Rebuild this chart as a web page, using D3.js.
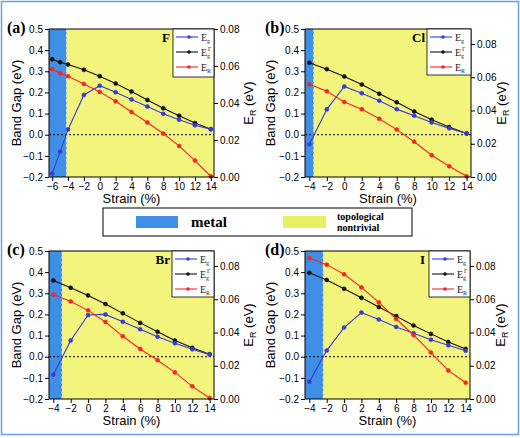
<!DOCTYPE html>
<html><head><meta charset="utf-8">
<script src="https://cdn.jsdelivr.net/npm/d3@7"></script>
<style>body{margin:0;background:#fff}svg{display:block}</style>
</head><body>
<svg id="c" width="520" height="438"></svg>
<script>
// ---- data ----
const strainA = [-6, -5, -4, -2, 0, 2, 4, 6, 8, 10, 12, 14];
const egA      = [-0.184, -0.081, 0.025, 0.188, 0.232, 0.201, 0.167, 0.133, 0.099, 0.071, 0.045, 0.026];
const egGammaA = [0.357, 0.343, 0.332, 0.307, 0.277, 0.242, 0.204, 0.164, 0.125, 0.090, 0.055, 0.026];
const erA      = [0.0583, 0.0561, 0.0545, 0.0503, 0.0460, 0.0409, 0.0351, 0.0295, 0.0235, 0.0168, 0.0089, 0.0004];

const strainB = [-4, -2, 0, 2, 4, 6, 8, 10, 12, 14];
const egB      = [-0.045, 0.120, 0.228, 0.196, 0.161, 0.121, 0.090, 0.058, 0.030, 0.006];
const egGammaB = [0.340, 0.310, 0.275, 0.237, 0.194, 0.153, 0.110, 0.071, 0.036, 0.006];
const erB      = [0.0558, 0.0515, 0.0451, 0.0408, 0.0350, 0.0285, 0.0212, 0.0131, 0.0065, 0.0004];

const strainC = [-4, -2, 0, 2, 4, 6, 8, 10, 12, 14];
const egC      = [-0.085, 0.077, 0.197, 0.200, 0.165, 0.130, 0.094, 0.064, 0.035, 0.010];
const egGammaC = [0.361, 0.326, 0.290, 0.249, 0.205, 0.160, 0.118, 0.077, 0.042, 0.012];
const erC      = [0.0629, 0.0587, 0.0533, 0.0463, 0.0377, 0.0301, 0.0233, 0.0160, 0.0076, 0.0006];

const strainD = [-4, -2, 0, 2, 4, 6, 8, 10, 12, 14];
const egD      = [-0.119, 0.029, 0.138, 0.209, 0.176, 0.141, 0.111, 0.080, 0.054, 0.028];
const egGammaD = [0.397, 0.363, 0.321, 0.279, 0.235, 0.192, 0.148, 0.108, 0.070, 0.037];
const erD      = [0.0848, 0.0808, 0.0750, 0.0671, 0.0581, 0.0481, 0.0385, 0.0279, 0.0172, 0.0098];

const panelLabels = ["(a)", "(b)", "(c)", "(d)"];
const elementLabels = ["F", "Cl", "Br", "I"];
const metalEdges = [-4.2, -3.5, -3.0, -2.4];
const xTicksA = [-6, -4, -2, 0, 2, 4, 6, 8, 10, 12, 14];
const xTicksBCD = [-4, -2, 0, 2, 4, 6, 8, 10, 12, 14];
const leftTicks = [-0.2, -0.1, 0.0, 0.1, 0.2, 0.3, 0.4, 0.5];
const rightTicksA = [0.00, 0.02, 0.04, 0.06, 0.08];
const rightTicksBCD = [0.00, 0.02, 0.04, 0.06, 0.08];
const legendNames = ["metal", "topological", "nontrivial"];

// ---- style ----
const SANS = "'Liberation Sans', Arial, sans-serif";
const SERIF = "'Liberation Serif', 'Times New Roman', serif";
const C_BLUE_REG = "#3f8fe6";
const C_YEL = "#f3f47c";
const C_EG = "#3a3ad8";
const C_EGG = "#111111";
const C_ER = "#f52525";

const svg = d3.select("#c");

// outer frame
svg.append("rect").attr("x", 1.5).attr("y", 1.5).attr("width", 517).attr("height", 433)
  .attr("fill", "none").attr("stroke", "#6a9fe0").attr("stroke-width", 1.5);

const panels = [
  {x0: 49, x1: 214, y0: 29, y1: 177, xdom: [-6.4, 14.4], rmax: 0.08, strain: strainA, eg: egA, egg: egGammaA, er: erA, xt: xTicksA, rt: rightTicksA, lx: 7, ly: 33, legBox: [173, 29, 41, 48], elx: 170, ely: 42, ltx: 28, rtx: 39},
  {x0: 305, x1: 471, y0: 29, y1: 177, xdom: [-4.5, 14.5], rmax: 0.089, strain: strainB, eg: egB, egg: egGammaB, er: erB, xt: xTicksBCD, rt: rightTicksBCD, lx: 265, ly: 33, legBox: [427, 29, 44, 46], elx: 425, ely: 42, ltx: 30, rtx: 35},
  {x0: 49, x1: 214, y0: 251, y1: 399, xdom: [-4.5, 14.5], rmax: 0.089, strain: strainC, eg: egC, egg: egGammaC, er: erC, xt: xTicksBCD, rt: rightTicksBCD, lx: 7, ly: 255, legBox: [172, 251, 42, 46], elx: 170, ely: 264, ltx: 28, rtx: 39},
  {x0: 305, x1: 470, y0: 251, y1: 399, xdom: [-4.5, 14.5], rmax: 0.089, strain: strainD, eg: egD, egg: egGammaD, er: erD, xt: xTicksBCD, rt: rightTicksBCD, lx: 265, ly: 255, legBox: [429, 251, 41, 46], elx: 425, ely: 264, ltx: 30, rtx: 35}
];

panels.forEach((p, i) => {
  const g = svg.append("g");
  const x = d3.scaleLinear().domain(p.xdom).range([p.x0, p.x1]);
  const yL = d3.scaleLinear().domain([-0.2, 0.5]).range([p.y1, p.y0]);
  const yR = d3.scaleLinear().domain([0, p.rmax]).range([p.y1, p.y0]);

  // background regions
  g.append("rect").attr("x", p.x0).attr("y", p.y0).attr("width", p.x1 - p.x0).attr("height", p.y1 - p.y0).attr("fill", C_YEL);
  g.append("rect").attr("x", p.x0).attr("y", p.y0).attr("width", x(metalEdges[i]) - p.x0).attr("height", p.y1 - p.y0).attr("fill", C_BLUE_REG);
  g.append("line").attr("x1", x(metalEdges[i])).attr("x2", x(metalEdges[i])).attr("y1", p.y0).attr("y2", p.y1)
    .attr("stroke", "#cfe3f7").attr("stroke-width", 1).attr("stroke-dasharray", "3,2");

  // zero dotted line
  g.append("line").attr("x1", p.x0).attr("x2", p.x1).attr("y1", yL(0)).attr("y2", yL(0))
    .attr("stroke", "#000").attr("stroke-width", 1).attr("stroke-dasharray", "2,2");

  // series
  const series = [
    {vals: p.egg, y: yL, c: C_EGG},
    {vals: p.eg, y: yL, c: C_EG},
    {vals: p.er, y: yR, c: C_ER}
  ];
  series.forEach(s => {
    const pts = p.strain.map((d, k) => [d, s.vals[k]]);
    g.append("path").datum(pts)
      .attr("d", d3.line().x(d => x(d[0])).y(d => s.y(d[1])))
      .attr("fill", "none").attr("stroke", s.c).attr("stroke-width", 1.1);
    g.selectAll(null).data(pts).enter().append("circle")
      .attr("cx", d => x(d[0])).attr("cy", d => s.y(d[1])).attr("r", 2)
      .attr("fill", s.c).attr("stroke", s.c).attr("stroke-width", 0.6);
  });

  // frame
  g.append("rect").attr("x", p.x0).attr("y", p.y0).attr("width", p.x1 - p.x0).attr("height", p.y1 - p.y0)
    .attr("fill", "none").attr("stroke", "#000").attr("stroke-width", 1);

  // axes
  const styleAxis = (sel) => {
    sel.select(".domain").remove();
    sel.selectAll("text").attr("font-family", SANS).attr("font-size", 10).attr("fill", "#000");
    sel.selectAll("line").attr("stroke", "#000");
  };
  g.append("g").attr("transform", `translate(${p.x0},0)`)
    .call(d3.axisLeft(yL).tickValues(leftTicks).tickFormat(d3.format(".1f")).tickSize(4).tickPadding(2))
    .call(styleAxis);
  g.append("g").attr("transform", `translate(${p.x1},0)`)
    .call(d3.axisRight(yR).tickValues(p.rt).tickFormat(d3.format(".2f")).tickSize(4).tickPadding(2))
    .call(styleAxis);
  g.append("g").attr("transform", `translate(0,${p.y1})`)
    .call(d3.axisBottom(x).tickValues(p.xt).tickFormat(d3.format("d")).tickSize(4).tickPadding(2))
    .call(styleAxis);

  // axis titles
  g.append("text").attr("transform", `translate(${p.x0 - p.ltx},${(p.y0 + p.y1) / 2}) rotate(-90)`)
    .attr("text-anchor", "middle").attr("font-family", SANS).attr("font-size", 13).text("Band Gap (eV)");
  const rt = g.append("text").attr("transform", `translate(${p.x1 + p.rtx},${(p.y0 + p.y1) / 2}) rotate(-90)`)
    .attr("text-anchor", "middle").attr("font-family", SANS).attr("font-size", 13);
  rt.append("tspan").text("E");
  rt.append("tspan").attr("font-size", 9).attr("dy", 3).text("R");
  rt.append("tspan").attr("dy", -3).text(" (eV)");
  g.append("text").attr("x", (p.x0 + p.x1) / 2).attr("y", p.y1 + 26)
    .attr("text-anchor", "middle").attr("font-family", SANS).attr("font-size", 13).text("Strain (%)");

  // panel label
  g.append("text").attr("x", p.lx).attr("y", p.ly).attr("font-family", SERIF).attr("font-weight", "bold")
    .attr("font-size", 16).text(panelLabels[i]);
  // element label
  g.append("text").attr("x", p.elx).attr("y", p.ely).attr("text-anchor", "end").attr("font-family", SERIF)
    .attr("font-weight", "bold").attr("font-size", 13).text(elementLabels[i]);

  // inner legend
  const [bx, by, bw, bh] = p.legBox;
  g.append("rect").attr("x", bx).attr("y", by).attr("width", bw).attr("height", bh)
    .attr("fill", "#fff").attr("stroke", "#000").attr("stroke-width", 0.8);
  const legRows = [
    {c: C_EG, sub: "g", sup: ""},
    {c: C_EGG, sub: "g", sup: "Γ"},
    {c: C_ER, sub: "R", sup: ""}
  ];
  legRows.forEach((r, k) => {
    const ly = by + 8 + k * 15;
    g.append("line").attr("x1", bx + 3).attr("x2", bx + 25).attr("y1", ly).attr("y2", ly)
      .attr("stroke", r.c).attr("stroke-width", 1.1);
    g.append("circle").attr("cx", bx + 16).attr("cy", ly).attr("r", 1.8).attr("fill", r.c);
    const t = g.append("text").attr("x", bx + 28).attr("y", ly + 3.5).attr("font-family", SERIF)
      .attr("font-size", 10).attr("fill", "#222");
    t.append("tspan").text("E");
    t.append("tspan").attr("font-size", 6).attr("dy", 2.5).text(r.sub);
    if (r.sup) {
      g.append("text").attr("x", bx + 35).attr("y", ly - 1).attr("font-family", SERIF)
        .attr("font-size", 6).attr("fill", "#222").text(r.sup);
    }
  });
});

// shared legend
const lg = svg.append("g");
lg.append("rect").attr("x", 103).attr("y", 208).attr("width", 309).attr("height", 28)
  .attr("fill", "#fff").attr("stroke", "#000").attr("stroke-width", 1);
lg.append("rect").attr("x", 136).attr("y", 216).attr("width", 42).attr("height", 12).attr("fill", C_BLUE_REG);
lg.append("text").attr("x", 191).attr("y", 227).attr("font-family", SERIF).attr("font-weight", "bold")
  .attr("font-size", 15).text(legendNames[0]);
lg.append("rect").attr("x", 283).attr("y", 216).attr("width", 43).attr("height", 12).attr("fill", "#e6f060");
lg.append("text").attr("x", 337).attr("y", 220).attr("font-family", SERIF).attr("font-weight", "bold")
  .attr("font-size", 10).text(legendNames[1]);
lg.append("text").attr("x", 337).attr("y", 231).attr("font-family", SERIF).attr("font-weight", "bold")
  .attr("font-size", 10).text(legendNames[2]);
</script>
</body></html>
